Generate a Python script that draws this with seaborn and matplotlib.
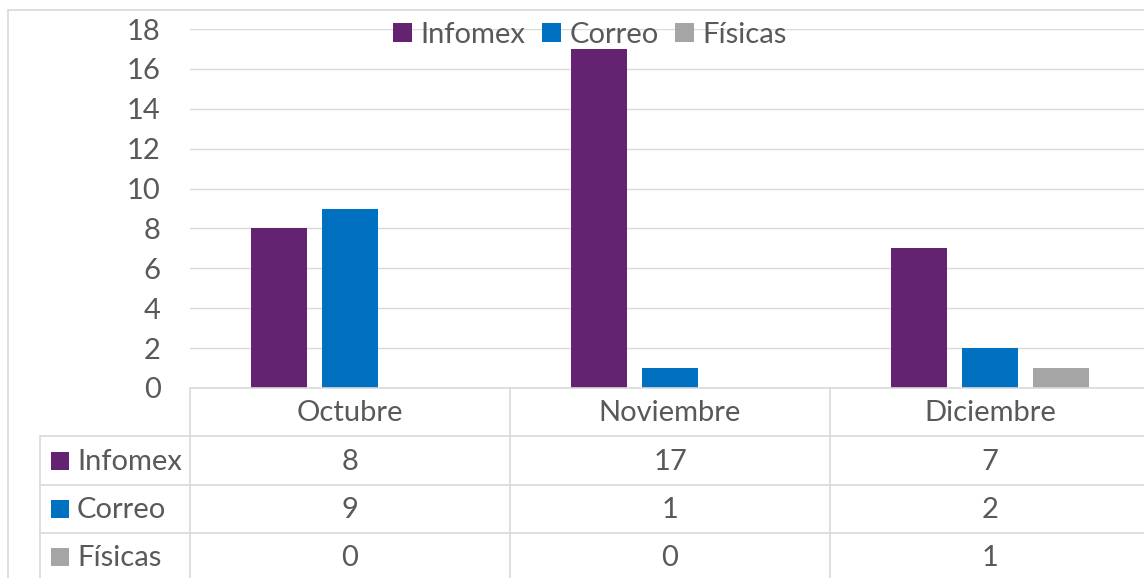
import matplotlib
matplotlib.use("Agg")
import matplotlib.pyplot as plt
import seaborn as sns
import pandas as pd
from matplotlib.patches import Patch, Rectangle
from matplotlib.lines import Line2D

categories = ["Octubre", "Noviembre", "Diciembre"]
series = ["Infomex", "Correo", "Físicas"]
infomex = [8, 17, 7]
correo = [9, 1, 2]
fisicas = [0, 0, 1]
yticks = [0, 2, 4, 6, 8, 10, 12, 14, 16, 18]
colors = ["#642370", "#0070C0", "#A5A5A5"]

values = [infomex, correo, fisicas]
df = pd.DataFrame({
    "Mes": [c for s in series for c in categories],
    "Serie": [s for s in series for c in categories],
    "Valor": [v for vals in values for v in vals],
})

sns.set_theme(style="white")
plt.rcParams["font.family"] = ["Lato", "DejaVu Sans"]
TXT = "#595959"
GRID = "#D9D9D9"
FS = 21

W, H = 1144, 578
fig = plt.figure(figsize=(W / 100, H / 100), dpi=100)
fig.patch.set_facecolor("white")

def fx(x):
    return x / W

def fy(y):
    return 1 - y / H

ax = fig.add_axes([fx(190), fy(388), 960 / W, (388 - 29) / H])
sns.barplot(data=df, x="Mes", y="Valor", hue="Serie", order=categories,
            hue_order=series, palette=colors, width=0.666, gap=0.21,
            linewidth=0, saturation=1, ax=ax, legend=False)
ax.set_xlim(-0.5, 2.5)
ax.set_ylim(0, 18)
ax.set_yticks(yticks)
ax.set_yticklabels([str(t) for t in yticks], fontsize=FS, color=TXT)
ax.tick_params(axis="y", length=0, pad=21)
ax.set_xticks([])
ax.set_xlabel("")
ax.set_ylabel("")
for sp in ax.spines.values():
    sp.set_visible(False)
ax.yaxis.grid(True, color=GRID, linewidth=1.0)
ax.set_axisbelow(True)
ax.patch.set_alpha(0)

# outer chart border
fig.add_artist(Line2D([fx(8), fx(8)], [fy(10), 0], color=GRID, lw=1.2, transform=fig.transFigure))
fig.add_artist(Line2D([fx(8), 1], [fy(10), fy(10)], color=GRID, lw=1.2, transform=fig.transFigure))

# legend
handles = [Patch(facecolor=c, edgecolor="none", label=s) for s, c in zip(series, colors)]
fig.legend(handles=handles, loc="center", bbox_to_anchor=(fx(590), fy(35)), ncol=3,
           frameon=False, fontsize=FS, labelcolor=TXT, handlelength=0.65,
           handleheight=0.65, handletextpad=0.3, columnspacing=0.55,
           borderpad=0, borderaxespad=0)

# data table
col_edges = [190, 510, 830, 1150]
row_lines = [436, 485, 533]
centers = [350, 670, 990]
row_centers = [460.5, 509, 557]
tf = fig.transFigure
fig.add_artist(Line2D([fx(190), fx(1150)], [fy(388), fy(388)], color=GRID, lw=1.2, transform=tf))
for y in row_lines:
    fig.add_artist(Line2D([fx(40), fx(1150)], [fy(y), fy(y)], color=GRID, lw=1.2, transform=tf))
for x in col_edges:
    fig.add_artist(Line2D([fx(x), fx(x)], [fy(388), 0], color=GRID, lw=1.2, transform=tf))
fig.add_artist(Line2D([fx(40), fx(40)], [fy(436), 0], color=GRID, lw=1.2, transform=tf))

for c, cx in zip(categories, centers):
    fig.text(fx(cx), fy(413), c, ha="center", va="center", fontsize=FS, color=TXT)

for s, col, vals, ry in zip(series, colors, values, row_centers):
    fig.add_artist(Rectangle((fx(51), fy(ry + 9)), 18 / W, 18 / H, facecolor=col,
                             edgecolor="none", transform=tf))
    fig.text(fx(77), fy(ry + 1.5), s, ha="left", va="center", fontsize=FS, color=TXT)
    for v, cx in zip(vals, centers):
        fig.text(fx(cx), fy(ry + 1.5), str(v), ha="center", va="center", fontsize=FS, color=TXT)

fig.savefig("out.png", dpi=100)
